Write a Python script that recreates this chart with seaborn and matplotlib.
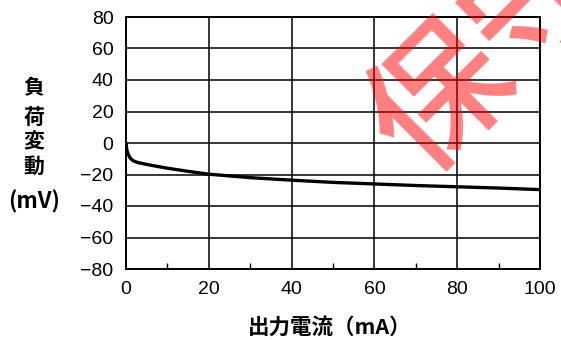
import numpy as np
import pandas as pd
import seaborn as sns
import matplotlib
matplotlib.use("Agg")
import matplotlib.pyplot as plt
from matplotlib.ticker import MultipleLocator

# Load regulation curve: output current (mA) vs. voltage change (mV)
current_ma = [0, 0.2, 0.5, 1, 1.5, 2, 3, 5, 7, 10, 15, 20, 30, 40, 50, 60, 70, 80, 90, 100]
delta_mv = [0, -4.4, -7, -9.5, -10.8, -11.6, -12.5, -13.6, -14.6, -16, -18, -19.8, -22, -23.6,
            -25, -26, -27, -27.8, -28.6, -29.6]
x_ticks = [0, 20, 40, 60, 80, 100]
y_ticks = [-80, -60, -40, -20, 0, 20, 40, 60, 80]
y_tick_labels = ["\u221280", "\u221260", "\u221240", "\u221220", "0", "20", "40", "60", "80"]
y_label_lines = ["負", "荷", "変", "動", "(mV)"]
x_label = "出力電流（mA）"
stamp = "保守"

sns.set_theme(style="white")
plt.rcParams["font.family"] = ["Liberation Sans", "Noto Sans CJK JP", "DejaVu Sans"]

df = pd.DataFrame({"current": current_ma, "delta": delta_mv})

fig = plt.figure(figsize=(5.61, 3.40), dpi=100)
ax = fig.add_axes([126 / 561, 1 - 269 / 340, (540 - 126) / 561, (269 - 17) / 340])

sns.lineplot(data=df, x="current", y="delta", ax=ax, color="black", linewidth=2.4)

ax.set_xlim(0, 100)
ax.set_ylim(-80, 80)
ax.set_xticks(x_ticks)
ax.set_yticks(y_ticks)
ax.set_yticklabels(y_tick_labels)
ax.xaxis.set_minor_locator(MultipleLocator(10))
ax.grid(True, which="major", color="black", linewidth=1.1)
ax.tick_params(axis="both", which="major", length=0, labelsize=14, colors="black")
ax.tick_params(axis="y", which="major", pad=9)
ax.tick_params(axis="x", which="major", pad=9)
ax.tick_params(axis="x", which="minor", direction="in", length=4, width=1, color="black", bottom=True)
ax.set_xlabel("")
ax.set_ylabel("")
for s in ax.spines.values():
    s.set_color("black")
    s.set_linewidth(1.4)

cjk = ["Noto Sans CJK JP", "DejaVu Sans"]
ys = [88, 118, 142, 166, 202]
sizes = [15, 15, 15, 15, 16]
for ch, y, fs in zip(y_label_lines, ys, sizes):
    fig.text(34 / 561, 1 - y / 340, ch, ha="center", va="center", fontsize=fs,
             fontweight="bold", family=cjk, color="black")
fig.text(330 / 561, 1 - 327 / 340, x_label, ha="center", va="center", fontsize=15.5,
         fontweight="bold", family=cjk, color="black")

# Red stamp across the upper right
fig.text(492 / 561, 1 - 52 / 340, stamp, ha="center", va="center", fontsize=100,
         family=cjk, fontweight="medium", color="#ff0000", alpha=0.5, rotation=45, zorder=10)

fig.savefig("out.png", dpi=100, facecolor="white")
